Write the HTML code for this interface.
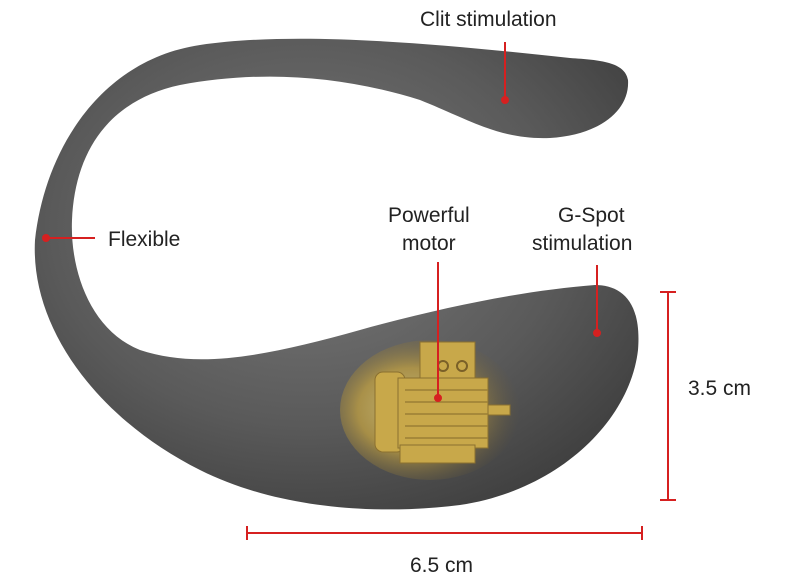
<!DOCTYPE html>
<html><head><meta charset="utf-8"><style>
html,body{margin:0;padding:0;background:#fff;}
svg{display:block;}
text{font-family:"Liberation Sans",sans-serif;font-size:21px;fill:#222;}
</style></head><body>
<svg width="800" height="588" viewBox="0 0 800 588" xmlns="http://www.w3.org/2000/svg">
<defs>
<radialGradient id="g" cx="0.45" cy="0.4" r="0.7">
<stop offset="0" stop-color="#7a7a7a"/><stop offset="0.6" stop-color="#5a5a5a"/><stop offset="1" stop-color="#3c3c3c"/>
</radialGradient>
<radialGradient id="m" cx="0.4" cy="0.5" r="0.6">
<stop offset="0" stop-color="#f3e08a"/><stop offset="0.5" stop-color="#c9a640"/><stop offset="1" stop-color="#6b5a30" stop-opacity="0"/>
</radialGradient>
</defs>
<path fill="url(#g)" d="M628,80 C625,62 600,60 570,58 C450,45 300,30 200,45 C100,60 45,150 35,240 C30,330 100,420 200,470 C280,510 380,515 460,505 C560,490 630,420 638,350 C642,300 620,285 595,285 C530,290 450,305 360,330 C270,355 200,370 140,350 C90,330 70,270 72,220 C75,150 110,100 180,85 C260,70 340,75 420,100 C470,120 500,140 550,138 C600,135 630,110 628,80 Z"/>
<ellipse cx="430" cy="410" rx="90" ry="70" fill="url(#m)" opacity="0.7"/>
<g fill="#c8a84a" stroke="#8a7030" stroke-width="1">
<rect x="420" y="342" width="55" height="40"/>
<rect x="375" y="372" width="30" height="80" rx="8"/>
<rect x="398" y="378" width="90" height="70"/>
<rect x="400" y="445" width="75" height="18"/>
<rect x="488" y="405" width="22" height="10"/>
</g>
<g stroke="#9a7f35" stroke-width="1.5">
<line x1="405" y1="390" x2="488" y2="390"/><line x1="405" y1="402" x2="488" y2="402"/>
<line x1="405" y1="414" x2="488" y2="414"/><line x1="405" y1="426" x2="488" y2="426"/>
<line x1="405" y1="438" x2="488" y2="438"/>
</g>
<circle cx="443" cy="366" r="5" fill="none" stroke="#7a6028" stroke-width="2"/>
<circle cx="462" cy="366" r="5" fill="none" stroke="#7a6028" stroke-width="2"/>
<g stroke="#d62020" stroke-width="2" fill="#d62020">
<line x1="505" y1="42" x2="505" y2="100"/><circle cx="505" cy="100" r="3"/>
<line x1="46" y1="238" x2="95" y2="238"/><circle cx="46" cy="238" r="3"/>
<line x1="438" y1="262" x2="438" y2="398"/><circle cx="438" cy="398" r="3"/>
<line x1="597" y1="265" x2="597" y2="333"/><circle cx="597" cy="333" r="3"/>
<line x1="668" y1="292" x2="668" y2="500"/><line x1="660" y1="292" x2="676" y2="292"/><line x1="660" y1="500" x2="676" y2="500"/>
<line x1="247" y1="533" x2="642" y2="533"/><line x1="247" y1="526" x2="247" y2="540"/><line x1="642" y1="526" x2="642" y2="540"/>
</g>
<text x="420" y="26">Clit stimulation</text>
<text x="108" y="246">Flexible</text>
<text x="388" y="222">Powerful</text>
<text x="402" y="250">motor</text>
<text x="558" y="222">G-Spot</text>
<text x="532" y="250">stimulation</text>
<text x="688" y="395">3.5 cm</text>
<text x="410" y="572">6.5 cm</text>
</svg>
</body></html>
